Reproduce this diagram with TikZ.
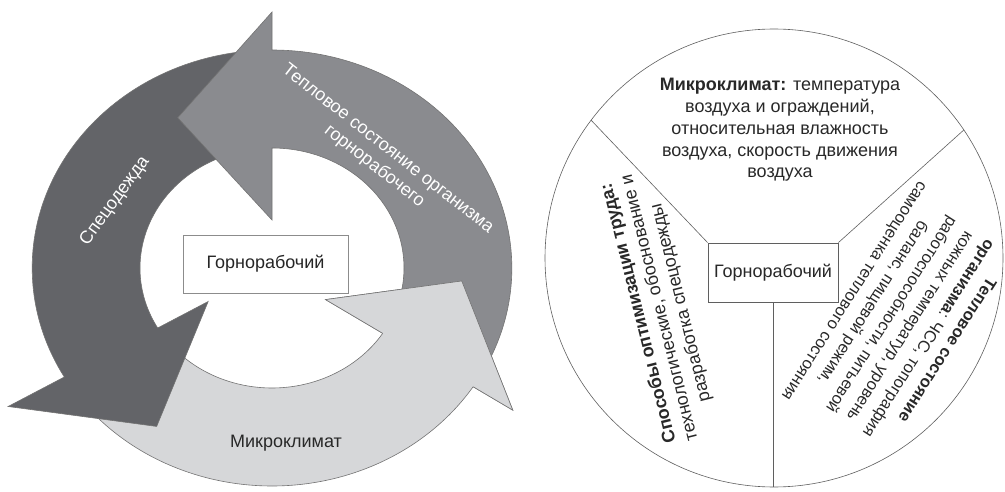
\documentclass[tikz,border=0pt]{standalone}
\usepackage{fontspec}
\setmainfont{Liberation Sans}
\usetikzlibrary{positioning,calc}
\definecolor{arrowdark}{RGB}{99,100,104}
\definecolor{arrowmid}{RGB}{138,139,143}
\definecolor{arrowlight}{RGB}{214,215,217}
\definecolor{textdark}{RGB}{40,40,40}
\definecolor{linegray}{RGB}{95,95,95}

\begin{document}
\begin{tikzpicture}[x=1pt, y=1pt, every node/.style={font=\fontsize{18}{21.7}\selectfont}]
\tikzset{ring/.style={draw=black!55, line width=0.6pt}}
\tikzset{worker/.style={draw=black!45, fill=white, line width=0.8pt, minimum width=165pt, minimum height=58pt, inner sep=0pt, text=textdark}}
\tikzset{wlabel/.style={text=white, align=center, inner sep=0pt}}
\tikzset{sector/.style={align=center, text=textdark, inner sep=0pt}}
\tikzset{spoke/.style={draw=linegray, line width=0.6pt}}
\useasboundingbox (0,0) rectangle (1005,491);
% cycle of three arrows
\begin{scope}[shift={(272,223)}, xscale=1.1]
\foreach \col/\a/\b/\t/\rt/\wi/\wo in {arrowlight/214/327/355.7/173/58/261, arrowdark/94/210/236.5/190/67/277, arrowmid/-29/90/119.7/173/48/256}
  \filldraw[ring, fill=\col] (\a:218) arc[start angle=\a, end angle=\b, radius=218] -- (\b:\wo) -- (\t:\rt) -- (\b:\wi) -- (\b:120) arc[start angle=\b, end angle=\a, radius=120] -- cycle;
% light head goes back over the tail of the mid arrow
\fill[arrowlight] (327:218) -- (327:261) -- (355.7:173) -- (327:58) -- (327:120) -- cycle;
\draw[ring] (327:218) -- (327:261) -- (355.7:173) -- (327:58) -- (327:120);
\end{scope}
\node[wlabel, rotate=54] (clothes) at (115,290) {Спецодежда};
\node[wlabel, rotate=-38] (heat) at (381,333) {Тепловое состояние организма\\горнорабочего};
\node[text=textdark, inner sep=0pt] (climate) at (286,48) {Микроклимат};
\node[worker, text=black!85] (minerL) at (265.5,227) {Горнорабочий};
% pie of factors
\node[draw=linegray, line width=0.6pt, circle, minimum size=458pt, inner sep=0pt, outer sep=0pt] (disk) at (774,233) {};
\node[worker, minimum width=130pt, minimum height=59pt, draw=linegray] (minerR) at (773,218.5) {Горнорабочий};
\draw[spoke] (minerR.north west) -- (disk.143.2);
\draw[spoke] (minerR.north east) -- (disk.34.5);
\draw[spoke] (minerR.south) -- (minerR.south |- disk.south);
\node[sector] (climateR) at (780,361) {\textbf{Микроклимат:} температура\\воздуха и ограждений,\\относительная влажность\\воздуха, скорость движения\\воздуха};
\node[sector, rotate=104] (ways) at (660,183) {\textbf{Способы оптимизации труда:}\\технологические, обоснование и\\разработка спецодежды};
\node[sector, rotate=-122.5, font=\fontsize{16.5}{22}\selectfont] (heatR) at (900,171) {\textbf{Тепловое состояние}\\\textbf{организма}: ЧСС, топография\\кожных температур, уровень\\работоспособности, питьевой\\баланс, пищевой режим,\\самооценка теплового состояния};
\end{tikzpicture}
\end{document}
